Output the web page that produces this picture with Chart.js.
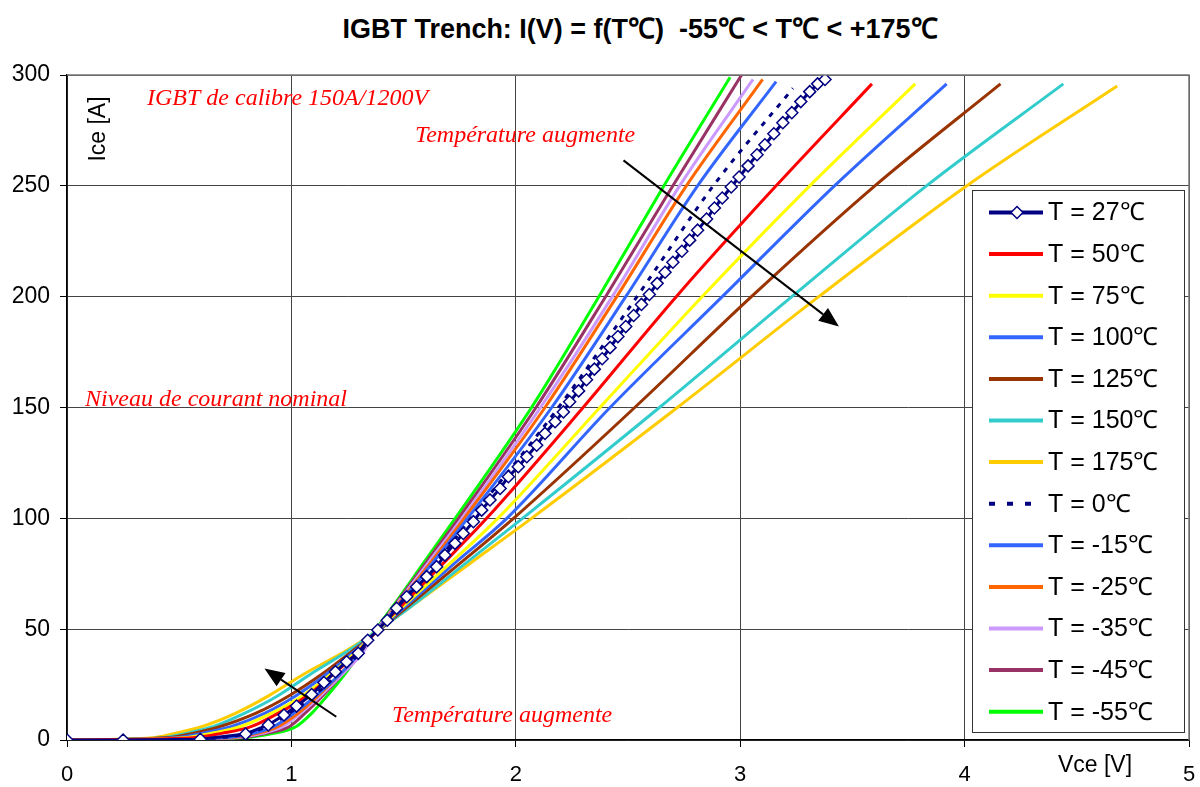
<!DOCTYPE html>
<html>
<head>
<meta charset="utf-8">
<script src="https://cdn.jsdelivr.net/npm/chart.js@4.4.0/dist/chart.umd.min.js"></script>
<style>
  body { margin: 0; background: #fff; width: 1200px; height: 787px; overflow: hidden; position: relative; }
  #title {
    position: absolute; top: 8px; left: 640px; white-space: pre;
    font: bold 28px "Liberation Sans", Arial, sans-serif; color: #000;
    transform-origin: 0 0;
  }
  #chart { position: absolute; left: 0; top: 0; width: 1200px; height: 787px; }
</style>
</head>
<body>
<div id="title">IGBT Trench: I(V) = f(T℃)  -55℃ &lt; T℃ &lt; +175℃</div>
<canvas id="chart" width="1200" height="787"></canvas>
<script>
// current levels (A) shared by the measured curves
const iceGrid = [0, 1, 3, 6, 12, 20, 30, 40, 47, 60, 80, 100, 150, 200, 250];

// Vce (V) read at each current level of iceGrid
const vce50 = [0, 0.56, 0.69, 0.82, 0.94, 1.07, 1.19, 1.30, 1.36, 1.485, 1.68, 1.87, 2.30, 2.715, 3.16];
const vce75 = [0, 0.52, 0.64, 0.77, 0.91, 1.05, 1.18, 1.29, 1.36, 1.495, 1.71, 1.92, 2.375, 2.83, 3.31];
const vce100 = [0, 0.48, 0.60, 0.73, 0.88, 1.02, 1.16, 1.28, 1.36, 1.505, 1.73, 1.96, 2.42, 2.92, 3.42];
const vce125 = [0, 0.44, 0.56, 0.68, 0.84, 0.99, 1.14, 1.27, 1.36, 1.515, 1.755, 1.99, 2.53, 3.05, 3.60];
const vce150 = [0, 0.42, 0.53, 0.65, 0.79, 0.94, 1.09, 1.25, 1.35, 1.53, 1.78, 2.03, 2.64, 3.23, 3.83];
const vce175 = [0, 0.38, 0.48, 0.60, 0.75, 0.90, 1.06, 1.24, 1.35, 1.53, 1.80, 2.07, 2.72, 3.35, 4.01];
const vce0 = [0, 0.68, 0.80, 0.89, 0.99, 1.10, 1.21, 1.31, 1.36, 1.47, 1.645, 1.80, 2.19, 2.54, 2.88];
const vceM15 = [0, 0.70, 0.83, 0.92, 1.01, 1.11, 1.22, 1.31, 1.36, 1.47, 1.63, 1.785, 2.16, 2.49, 2.81];
const vceM25 = [0, 0.72, 0.85, 0.94, 1.03, 1.12, 1.22, 1.31, 1.36, 1.465, 1.62, 1.77, 2.13, 2.45, 2.76];
const vceM35 = [0, 0.74, 0.87, 0.96, 1.04, 1.13, 1.23, 1.32, 1.36, 1.46, 1.61, 1.76, 2.11, 2.43, 2.73];
const vceM45 = [0, 0.76, 0.89, 0.99, 1.06, 1.14, 1.23, 1.32, 1.36, 1.455, 1.60, 1.745, 2.09, 2.40, 2.70];
const vceM55 = [0, 0.78, 0.92, 1.02, 1.09, 1.16, 1.24, 1.31, 1.355, 1.45, 1.59, 1.73, 2.07, 2.37, 2.66];

// last measured point of each curve
const vceEnd = { 50: 3.587, 75: 3.78, 100: 3.92, 125: 4.16, 150: 4.44, 175: 4.68, 0: 3.235, '-15': 3.16, '-25': 3.10, '-35': 3.057, '-45': 3.006, '-55': 2.955 };
const iceEnd = { 50: 296, 75: 296, 100: 296, 125: 296, 150: 296, 175: 295, 0: 294, '-15': 297, '-25': 298, '-35': 298, '-45': 300, '-55': 299 };

// 27 degC curve, every measured point (shown with markers)
const vce27 = [0, 0.25, 0.594, 0.796, 0.897, 0.967, 1.023, 1.09, 1.145, 1.196, 1.246, 1.298, 1.34, 1.385, 1.427,
  1.469, 1.514, 1.558, 1.603, 1.647, 1.684, 1.729, 1.766, 1.811, 1.848, 1.885, 1.93, 1.967, 2.011, 2.049,
  2.093, 2.13, 2.175, 2.212, 2.24, 2.28, 2.315, 2.35, 2.385, 2.42, 2.455, 2.49, 2.525, 2.56, 2.595,
  2.63, 2.665, 2.70, 2.74, 2.775, 2.81, 2.85, 2.885, 2.92, 2.96, 2.995, 3.035, 3.075, 3.11, 3.15,
  3.19, 3.23, 3.27, 3.31, 3.345, 3.378];
const ice27 = [0, 0, 0.3, 2.7, 6.8, 11.3, 15.3, 20.5, 25.9, 30.8, 35.3, 39.1, 45, 49.6, 54,
  59.4, 64.6, 69.1, 73.7, 78.2, 83.4, 88.7, 93.2, 98.5, 103.7, 108.3, 113.5, 118.8, 123.3, 127.8,
  133, 138.3, 143.6, 148, 152.6, 157.5, 162.5, 167.3, 172, 177, 182, 186.5, 191.5, 196.5, 201,
  206, 211, 215.5, 220.5, 225.5, 230, 235, 240, 244.5, 249.5, 254, 259, 264, 268.5, 273.5,
  278.5, 283, 288, 292.5, 296, 298];

const xTicks = [0, 1, 2, 3, 4, 5];
const yTicks = [0, 50, 100, 150, 200, 250, 300];

const FONT = '"Liberation Sans", Arial, sans-serif';
const SERIF = '"Liberation Serif", "Times New Roman", serif';

// wanted plot area, in canvas pixels
const AREA = { left: 67, right: 1189, top: 75, bottom: 740 };

function curve(temp, vce) {
  const pts = vce.map((v, i) => ({ x: v, y: iceGrid[i] }));
  pts.push({ x: vceEnd[temp], y: iceEnd[temp] });
  return pts;
}

const series = [
  { label: 'T = 27℃', temp: 27, color: '#000080', marker: true },
  { label: 'T = 50℃', temp: 50, color: '#ff0000', vce: vce50 },
  { label: 'T = 75℃', temp: 75, color: '#ffff00', vce: vce75 },
  { label: 'T = 100℃', temp: 100, color: '#3366ff', vce: vce100 },
  { label: 'T = 125℃', temp: 125, color: '#993300', vce: vce125 },
  { label: 'T = 150℃', temp: 150, color: '#33cccc', vce: vce150 },
  { label: 'T = 175℃', temp: 175, color: '#ffcc00', vce: vce175 },
  { label: 'T = 0℃', temp: 0, color: '#000080', vce: vce0, dash: [5, 7] },
  { label: 'T = -15℃', temp: '-15', color: '#3366ff', vce: vceM15 },
  { label: 'T = -25℃', temp: '-25', color: '#ff6600', vce: vceM25 },
  { label: 'T = -35℃', temp: '-35', color: '#cc99ff', vce: vceM35 },
  { label: 'T = -45℃', temp: '-45', color: '#993366', vce: vceM45 },
  { label: 'T = -55℃', temp: '-55', color: '#00ff00', vce: vceM55 },
];

const datasets = series.map((s) => {
  const data = s.marker
    ? vce27.map((v, i) => ({ x: v, y: ice27[i] }))
    : curve(s.temp, s.vce);
  return {
    label: s.label,
    data,
    showLine: true,
    borderColor: s.color,
    backgroundColor: s.color,
    borderWidth: 3,
    borderDash: s.dash || [],
    cubicInterpolationMode: s.marker ? 'default' : 'monotone',
    tension: 0,
    pointRadius: s.marker ? 6 : 0,
    pointStyle: 'rectRot',
    pointBorderColor: '#000080',
    pointBackgroundColor: '#ffffff',
    pointBorderWidth: 1.5,
  };
});

function drawArrow(ctx, x1, y1, x2, y2) {
  const ang = Math.atan2(y2 - y1, x2 - x1);
  const len = 20, half = 8;
  const bx = x2 - len * Math.cos(ang), by = y2 - len * Math.sin(ang);
  ctx.save();
  ctx.strokeStyle = '#000';
  ctx.fillStyle = '#000';
  ctx.lineWidth = 2;
  ctx.beginPath();
  ctx.moveTo(x1, y1);
  ctx.lineTo(bx, by);
  ctx.stroke();
  ctx.beginPath();
  ctx.moveTo(x2, y2);
  ctx.lineTo(bx + half * Math.sin(ang), by - half * Math.cos(ang));
  ctx.lineTo(bx - half * Math.sin(ang), by + half * Math.cos(ang));
  ctx.closePath();
  ctx.fill();
  ctx.restore();
}

const overlayPlugin = {
  id: 'overlay',
  afterDatasetsDraw(chart) {
    const { ctx, chartArea: a, scales: { x, y } } = chart;

    // gray frame on the top and right
    ctx.save();
    ctx.strokeStyle = '#777';
    ctx.lineWidth = 1.5;
    ctx.beginPath();
    ctx.moveTo(a.left, a.top);
    ctx.lineTo(a.right, a.top);
    ctx.lineTo(a.right, a.bottom);
    ctx.stroke();
    ctx.restore();

    drawArrow(ctx, x.getPixelForValue(2.48), y.getPixelForValue(261.5), x.getPixelForValue(3.44), y.getPixelForValue(186.5));
    drawArrow(ctx, x.getPixelForValue(1.20), y.getPixelForValue(10.5), x.getPixelForValue(0.88), y.getPixelForValue(32.3));

    ctx.save();
    ctx.fillStyle = '#ff0000';
    ctx.font = 'italic 24px ' + SERIF;
    ctx.textBaseline = 'alphabetic';
    ctx.textAlign = 'left';
    ctx.fillText('IGBT de calibre 150A/1200V', 147, 105);
    ctx.fillText('Température augmente', 415, 142);
    ctx.fillText('Niveau de courant nominal', 85, 406);
    ctx.fillText('Température augmente', 392, 722);

    // axis titles
    ctx.fillStyle = '#000';
    ctx.font = '23px ' + FONT;
    ctx.textAlign = 'center';
    ctx.textBaseline = 'middle';
    ctx.fillText('Vce [V]', 1095, 766);
    ctx.translate(99, 129);
    ctx.rotate(-Math.PI / 2);
    ctx.fillText('Ice [A]', 0, 0);
    ctx.restore();

    // legend box
    ctx.save();
    ctx.fillStyle = '#fff';
    ctx.fillRect(972, 190, 212, 542);
    ctx.strokeStyle = '#333';
    ctx.lineWidth = 1;
    ctx.strokeRect(972.5, 190.5, 212, 542);
    ctx.font = '25px ' + FONT;
    ctx.textBaseline = 'middle';
    ctx.textAlign = 'left';
    series.forEach((s, i) => {
      const cy = 212.5 + i * 41.6;
      ctx.strokeStyle = s.color;
      ctx.lineWidth = 4;
      ctx.setLineDash(s.dash ? [6, 12] : []);
      ctx.beginPath();
      ctx.moveTo(989, cy);
      ctx.lineTo(1043, cy);
      ctx.stroke();
      ctx.setLineDash([]);
      if (s.marker) {
        ctx.fillStyle = '#fff';
        ctx.strokeStyle = '#000080';
        ctx.lineWidth = 1.5;
        ctx.beginPath();
        ctx.moveTo(1017, cy - 6);
        ctx.lineTo(1023, cy);
        ctx.lineTo(1017, cy + 6);
        ctx.lineTo(1011, cy);
        ctx.closePath();
        ctx.fill();
        ctx.stroke();
      }
      ctx.fillStyle = '#000';
      ctx.fillText(s.label, 1048, cy + 1);
    });
    ctx.restore();
  },
};

const chart = new Chart(document.getElementById('chart'), {
  type: 'scatter',
  data: { datasets },
  options: {
    responsive: false,
    maintainAspectRatio: false,
    devicePixelRatio: 1,
    animation: false,
    events: [],
    layout: { padding: { top: AREA.top, right: 1200 - AREA.right, left: 0, bottom: 0 } },
    plugins: { legend: { display: false }, tooltip: { enabled: false } },
    scales: {
      x: {
        type: 'linear', min: 0, max: 5,
        afterBuildTicks: (s) => { s.ticks = xTicks.map((v) => ({ value: v })); },
        ticks: { color: '#000', font: { size: 22, family: FONT }, padding: 15, maxRotation: 0 },
        grid: { color: '#444', lineWidth: 1, tickLength: 7, tickColor: '#000' },
        border: { color: '#000', width: 1.5 },
        afterFit: (s) => { s.height = 787 - AREA.bottom; s.paddingLeft = 0; s.paddingRight = 0; },
      },
      y: {
        type: 'linear', min: 0, max: 300,
        afterBuildTicks: (s) => { s.ticks = yTicks.map((v) => ({ value: v })); },
        ticks: { color: '#000', font: { size: 23, family: FONT }, padding: 10 },
        grid: { color: '#444', lineWidth: 1, tickLength: 7, tickColor: '#000' },
        border: { color: '#000', width: 1.5 },
        afterFit: (s) => { s.width = AREA.left; s.paddingTop = 0; s.paddingBottom = 0; },
      },
    },
  },
  plugins: [overlayPlugin],
});

// nudge the padding until the plot area sits where the original has it
for (let i = 0; i < 3; i++) {
  const a = chart.chartArea;
  const dr = AREA.right - a.right;
  const dt = a.top - AREA.top;
  if (Math.abs(dr) < 0.5 && Math.abs(dt) < 0.5) break;
  chart.options.layout.padding.right -= dr;
  chart.options.layout.padding.top -= dt;
  chart.update();
}

// squeeze the bold title to the narrow width of the original
const title = document.getElementById('title');
const w = title.getBoundingClientRect().width;
const target = 595;
title.style.transform = `translateX(${-target / 2}px) scaleX(${target / w})`;
</script>
</body>
</html>
